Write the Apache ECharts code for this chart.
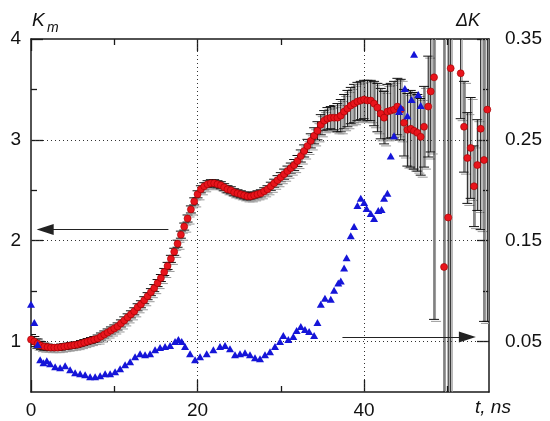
<!DOCTYPE html>
<html><head><meta charset="utf-8">
<script src="https://cdn.jsdelivr.net/npm/echarts@6/dist/echarts.min.js"></script>
<style>html,body{margin:0;padding:0;background:#fff}#c{width:550px;height:421px}</style>
</head><body><div id="c"></div>
<script>
// Red circles: K_m (left axis) with error bars
const tK = [0,0.4,0.8,1.2,1.6,2,2.4,2.8,3.2,3.6,4,4.4,4.8,5.2,5.6,6,6.4,6.8,7.2,7.6,8,8.4,8.8,9.2,9.6,10,10.4,10.8,11.2,11.6,12,12.4,12.8,13.2,13.6,14,14.4,14.8,15.2,15.6,16,16.4,16.8,17.2,17.6,18,18.4,18.8,19.2,19.6,20,20.4,20.8,21.2,21.6,22,22.4,22.8,23.2,23.6,24,24.4,24.8,25.2,25.6,26,26.4,26.8,27.2,27.6,28,28.4,28.8,29.2,29.6,30,30.4,30.8,31.2,31.6,32,32.4,32.8,33.2,33.6,34,34.4,34.8,35.2,35.6,36,36.4,36.8,37.2,37.6,38,38.4,38.8,39.2,39.6,40,40.4,40.8,41.2,41.6,42,42.4,42.8,43.2,43.6,44,44.4,44.8,45.2,45.6,46,46.4,46.8,47.2,47.7,48.0,48.4,49.6,50.1,50.4,51.6,52.0,52.4,52.8,53.2,53.6,54.0,54.4,54.8];
const Km = [1.02,1.00,0.98,0.96,0.95,0.945,0.94,0.94,0.94,0.945,
0.95,0.955,0.96,0.965,0.97,0.98,0.99,1.00,1.01,1.02,
1.03,1.05,1.07,1.09,1.11,1.13,1.15,1.18,1.21,1.24,
1.27,1.30,1.34,1.37,1.41,1.45,1.49,1.53,1.58,1.63,
1.69,1.75,1.82,1.89,1.97,2.06,2.14,2.22,2.31,2.39,
2.46,2.51,2.54,2.56,2.57,2.57,2.56,2.55,2.53,2.51,
2.50,2.48,2.47,2.46,2.45,2.44,2.44,2.45,2.46,2.47,
2.49,2.51,2.54,2.57,2.60,2.63,2.66,2.69,2.72,2.75,
2.79,2.84,2.89,2.94,2.99,3.04,3.09,3.15,3.19,3.21,
3.22,3.22,3.22,3.24,3.28,3.31,3.34,3.36,3.38,3.39,
3.40,3.39,3.39,3.36,3.32,3.26,3.22,3.28,3.29,3.30,
3.33,3.30,3.17,3.10,3.11,3.09,3.07,3.03,3.13,
3.33,3.48,3.62,1.74,2.23,3.71,3.66,3.13,2.82,2.92,2.54,2.75,3.11,2.80,3.30];
const errK = [0.05,0.05,0.045,0.04,0.035,0.03,0.03,0.03,0.03,0.03,
0.03,0.03,0.03,0.03,0.03,0.03,0.03,0.03,0.03,0.03,
0.035,0.035,0.035,0.035,0.035,0.035,0.035,0.035,0.035,0.035,
0.035,0.035,0.035,0.035,0.035,0.035,0.035,0.035,0.035,0.035,
0.035,0.035,0.035,0.035,0.035,0.035,0.035,0.035,0.035,0.035,
0.035,0.035,0.035,0.035,0.035,0.035,0.035,0.035,0.035,0.035,
0.035,0.035,0.035,0.035,0.035,0.035,0.035,0.035,0.035,0.035,
0.035,0.035,0.04,0.04,0.045,0.045,0.05,0.05,0.05,0.055,
0.055,0.06,0.06,0.065,0.07,0.08,0.09,0.1,0.1,0.11,
0.11,0.12,0.14,0.16,0.17,0.18,0.18,0.19,0.19,0.19,
0.19,0.2,0.2,0.22,0.24,0.25,0.26,0.27,0.27,0.28,
0.28,0.3,0.33,0.36,0.38,0.38,0.38,0.38,0.4,
0.5,0.6,2.4,3.5,3.5,3.5,0.45,0.45,0.45,0.5,0.4,0.45,1.0,1.6,2.1];
// Blue triangles: ΔK (right axis)
const tD = [0,0.4,0.8,1.1,1.5,1.9,2.3,2.9,3.5,4.1,4.7,5.3,5.9,6.5,7.1,7.7,8.3,8.9,9.5,10.1,10.7,11.3,11.9,12.5,13.1,13.7,14.3,14.9,15.5,16.1,16.7,17.3,17.7,18.1,18.5,19.1,19.7,20.3,21.1,21.9,22.7,23.3,23.9,24.5,25.1,25.7,26.3,26.9,27.5,28.1,28.7,29.3,29.9,30.3,30.9,31.5,31.9,32.4,32.9,33.4,34.0,34.4,34.8,35.3,36.0,36.4,36.9,37.2,37.6,37.9,38.4,38.8,39.2,39.6,40.0,40.3,40.8,41.2,41.7,42.1,42.4,42.8,43.2,43.6,44.2,44.4,44.9,45.2,45.7,46.0,46.5,46.8];
const dK = [0.087,0.069,0.047,0.032,0.029,0.031,0.028,0.025,0.024,0.026,
0.022,0.019,0.018,0.017,0.015,0.015,0.016,0.018,0.018,0.020,
0.023,0.027,0.030,0.035,0.038,0.037,0.038,0.042,0.044,0.045,
0.046,0.050,0.052,0.050,0.045,0.038,0.032,0.035,0.038,0.042,
0.045,0.046,0.043,0.037,0.038,0.039,0.037,0.034,0.033,0.037,
0.040,0.045,0.050,0.056,0.052,0.055,0.061,0.065,0.062,0.060,
0.056,0.069,0.087,0.093,0.092,0.101,0.108,0.110,0.123,0.133,
0.155,0.164,0.185,0.192,0.188,0.182,0.177,0.172,0.180,0.181,
0.192,0.197,0.234,0.254,0.278,0.282,0.301,0.274,0.290,0.335,
0.295,0.284];
// Axis ticks / labels
const xMajor = [0, 20, 40];
const xMinor = [10, 30, 50];
const kMajor = [1, 2, 3, 4];
const kMinor = [1.5, 2.5, 3.5];
const dMajor = [0.05, 0.15, 0.25, 0.35];
const dMinor = [0.1, 0.2, 0.3];
const kGrid = [1, 2, 3];
const tGrid = [20, 40];
// Annotation arrows (data coords)
const arrowLeft = [[16.5, 2.11], [1.7, 2.11]];
const arrowRight = [[37.4, 0.0545], [52.4, 0.0545]];

const FONT = "'Liberation Sans', Arial, sans-serif";
const LC = '#1a1a1a';
const redData = tK.map((t, i) => [t, Km[i], errK[i]]);
const blueData = tD.map((t, i) => [t, dK[i]]);

function axisX(pos, ticks, len, labels, line) {
  return { type: 'value', min: 0, max: 55, position: pos, gridIndex: 0,
    axisLine: { show: line, onZero: false, lineStyle: { color: LC, width: 1.5 } },
    axisTick: { show: true, inside: true, length: len, customValues: ticks, lineStyle: { color: LC, width: 1.3 } },
    axisLabel: labels ? { show: true, customValues: labels, fontFamily: FONT, fontSize: 19, color: '#111', margin: 9 } : { show: false },
    splitLine: { show: false } };
}
function axisY(pos, min, max, ticks, len, labels, line, fmt, margin) {
  return { type: 'value', min: min, max: max, position: pos, gridIndex: 0,
    axisLine: { show: line, onZero: false, lineStyle: { color: LC, width: 1.5 } },
    axisTick: { show: true, inside: true, length: len, customValues: ticks, lineStyle: { color: LC, width: 1.3 } },
    axisLabel: labels ? { show: true, customValues: labels, fontFamily: FONT, fontSize: 19, color: '#111', margin: margin, formatter: fmt } : { show: false },
    splitLine: { show: false } };
}

const chart = echarts.init(document.getElementById('c'), null, { renderer: 'canvas' });
chart.setOption({
  animation: false,
  backgroundColor: '#fff',
  grid: { left: 31, top: 39, width: 458, height: 353, show: false },
  xAxis: [
    axisX('bottom', xMajor, 12, xMajor, true),
    axisX('bottom', xMinor, 6, null, false),
    axisX('top', xMajor, 12, null, true),
    axisX('top', xMinor, 6, null, false)
  ],
  yAxis: [
    axisY('left', 0.5, 4, kMajor, 12, kMajor, true, v => String(v), 10),
    axisY('left', 0.5, 4, kMinor, 6, null, false),
    axisY('right', 0, 0.35, dMajor, 12, dMajor, true, v => (+v).toFixed(2), 16),
    axisY('right', 0, 0.35, dMinor, 6, null, false)
  ],
  graphic: [
    { type: 'text', left: 32, top: 11, style: { text: 'K', font: "italic 19px " + FONT, fill: '#111' } },
    { type: 'text', left: 47, top: 21, style: { text: 'm', font: "italic 14px " + FONT, fill: '#111' } },
    { type: 'text', left: 456, top: 12, style: { text: 'ΔK', font: "italic 18px " + FONT, fill: '#111' } },
    { type: 'text', left: 475, top: 398, style: { text: 't, ns', font: "italic 19px " + FONT, fill: '#111' } }
  ],
  series: [
    { type: 'custom', name: 'err', xAxisIndex: 0, yAxisIndex: 0, clip: true, z: 2,
      data: redData,
      renderItem: function (params, api) {
        const x = api.value(0), y = api.value(1), e = api.value(2);
        const top = api.coord([x, y + e]);
        const bot = api.coord([x, y - e]);
        const hw = 5;
        const gs = { stroke: '#9a9a9a', lineWidth: 1 };
        const bs = { stroke: '#111', lineWidth: 1 };
        return { type: 'group', children: [
          { type: 'line', shape: { x1: top[0] + 1.5, y1: top[1], x2: bot[0] + 1.5, y2: bot[1] }, style: gs },
          { type: 'line', shape: { x1: top[0] - hw + 2, y1: top[1] + 2, x2: top[0] + hw + 2, y2: top[1] + 2 }, style: gs },
          { type: 'line', shape: { x1: bot[0] - hw + 2, y1: bot[1] + 2, x2: bot[0] + hw + 2, y2: bot[1] + 2 }, style: gs },
          { type: 'line', shape: { x1: top[0], y1: top[1], x2: bot[0], y2: bot[1] }, style: bs },
          { type: 'line', shape: { x1: top[0] - hw, y1: top[1], x2: top[0] + hw, y2: top[1] }, style: bs },
          { type: 'line', shape: { x1: bot[0] - hw, y1: bot[1], x2: bot[0] + hw, y2: bot[1] }, style: bs }
        ] };
      }
    },
    { type: 'scatter', name: 'Km', xAxisIndex: 0, yAxisIndex: 0, z: 3,
      data: redData.map(d => [d[0], d[1]]),
      symbol: 'circle', symbolSize: 7,
      itemStyle: { color: '#e8141c', borderColor: '#a00000', borderWidth: 0.6, opacity: 1 },
      markLine: { silent: true, symbol: 'none', animation: false, z: 1,
        label: { show: false },
        lineStyle: { type: [1, 3], color: '#333', width: 1 },
        data: kGrid.map(v => ({ yAxis: v })).concat(tGrid.map(v => ({ xAxis: v })))
      }
    },
    { type: 'scatter', name: 'dK', xAxisIndex: 0, yAxisIndex: 2, z: 4,
      data: blueData,
      symbol: 'triangle', symbolSize: [8, 7],
      itemStyle: { color: '#1515d8', opacity: 1 },
      markLine: { silent: true, animation: false,
        label: { show: false },
        symbol: ['none', 'triangle'], symbolSize: [11, 17],
        lineStyle: { type: 'solid', color: '#222', width: 1 },
        itemStyle: { color: '#111' },
        data: [
          [ { coord: [arrowLeft[0][0], (arrowLeft[0][1] - 0.5) / 10] }, { coord: [arrowLeft[1][0], (arrowLeft[1][1] - 0.5) / 10] } ],
          [ { coord: arrowRight[0] }, { coord: arrowRight[1] } ]
        ]
      }
    }
  ]
});
</script></body></html>
